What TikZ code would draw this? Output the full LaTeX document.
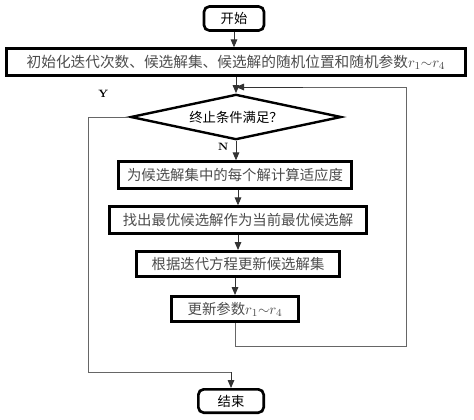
\documentclass[tikz,border=0pt]{standalone}
\usepackage{fontspec}
\newfontfamily\cjk{Noto Sans CJK SC}
\usetikzlibrary{arrows.meta, positioning, shapes.geometric, calc}

\begin{document}
\begin{tikzpicture}[
      x=0.75pt, y=0.75pt,
      font=\cjk\fontsize{10}{12}\selectfont,
      term/.style={rectangle, rounded corners=4pt, draw, line width=2pt, minimum height=18pt, inner sep=1pt},
      proc/.style={rectangle, draw, line width=2pt, minimum height=20pt, inner sep=1pt, text=black!70,
        font=\cjk\fontsize{10.8}{13}\selectfont},
      decide/.style={diamond, aspect=4.5, draw, line width=1.8pt, minimum width=158pt, minimum height=34pt, inner sep=0pt},
      link/.style={draw=black!60, line width=0.7pt},
      arr/.style={draw=black!80, line width=0.7pt, -{Triangle[length=6pt,width=5pt]}},
      yn/.style={font=\bfseries\fontsize{8}{9}\selectfont}
    ]
      \useasboundingbox (0,0) rectangle (474,-419);

      \node[term, minimum width=45pt] (start) at (234,-18.5) {开始};
      \node[proc, minimum width=344pt, font=\cjk\fontsize{11}{13}\selectfont] (init) at (236,-62)
        {初始化迭代次数、候选解集、候选解的随机位置和随机参数$r_1{\sim}r_4$};
      \node[decide] (cond) at (236,-117) {终止条件满足？};
      \node[proc, minimum width=175pt] (fit) at (235,-175) {为候选解集中的每个解计算适应度};
      \node[proc, minimum width=193pt] (best) at (238,-220) {找出最优候选解作为当前最优候选解};
      \node[proc, minimum width=152pt, minimum height=19pt] (upd) at (238,-264) {根据迭代方程更新候选解集};
      \node[proc, minimum width=95pt, minimum height=19pt] (par) at (235,-309) {更新参数$r_1{\sim}r_4$};
      \node[term, minimum width=49pt, minimum height=17.5pt] (stop) at (231,-401) {结束};

      % main flow
      \draw[arr] (start) -- (start |- init.north);
      \draw[arr] (init.south -| cond) -- (cond.north);
      \draw[arr] (cond.south) -- node[pos=0.3, left=2pt, yn] {N} (cond.south |- fit.north);
      \draw[arr] (fit.south -| best) -- (best.north);
      \draw[arr] (best.south -| upd) -- (upd.north);
      \draw[arr] (upd.south -| par) -- (par.north);

      % loop back
      \coordinate (merge) at (236,-87);
      \coordinate (loopR) at (406,-346);
      \draw[link] (par.south) |- (loopR) |- ($(merge)+(50pt,0)$);
      \draw[arr] ($(merge)+(50pt,0)$) -- (merge);

      % exit
      \coordinate (exitL) at (88,-372);
      \draw[link] (cond.west) -- node[above=11pt, xshift=-4pt, yn] {Y} (exitL |- cond.west)
        |- (exitL -| stop.north) coordinate (exitB);
      \draw[arr] (exitB) -- (stop.north);
    \end{tikzpicture}
\end{document}
